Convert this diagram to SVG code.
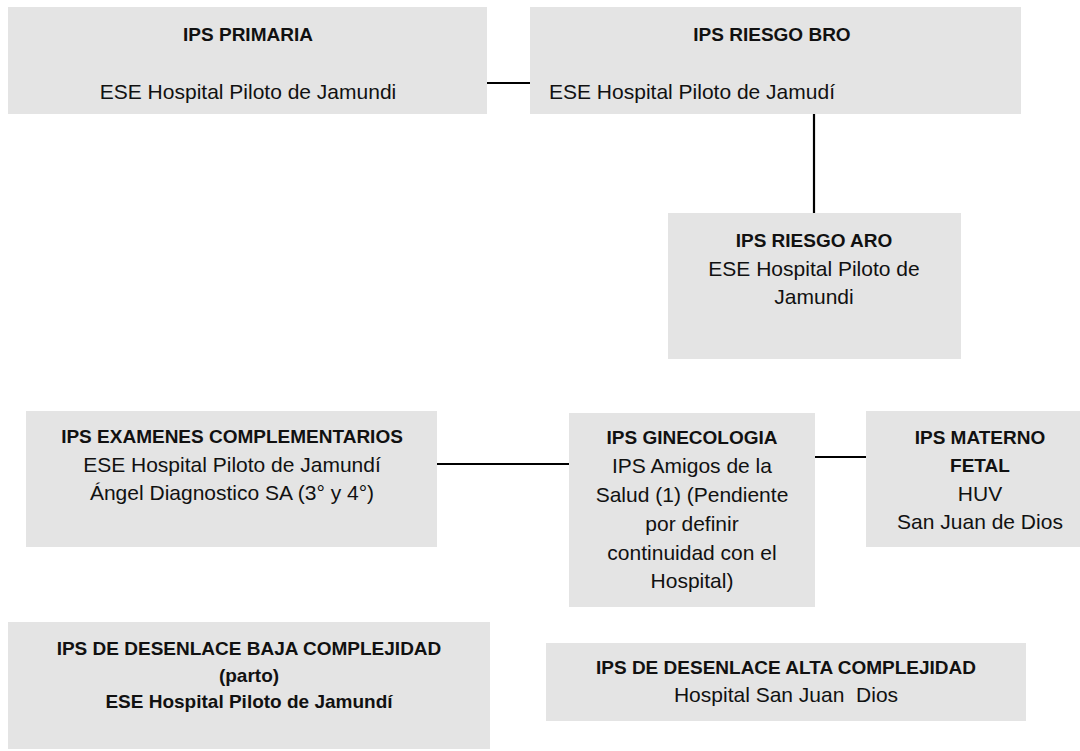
<svg xmlns="http://www.w3.org/2000/svg" width="1080" height="751" viewBox="0 0 1080 751">
<style>
.box{fill:#e4e4e4;stroke:none}
.h{font-family:"Liberation Sans",Arial,sans-serif;font-size:19px;font-weight:bold;fill:#111;text-anchor:middle}
.t{font-family:"Liberation Sans",Arial,sans-serif;font-size:21px;fill:#111;text-anchor:middle}
.tl{text-anchor:start}
.c{stroke:#000;stroke-width:2.2;fill:none}
</style>
<rect width="1080" height="751" fill="#fff"/>
<g id="connectors">
<line class="c" x1="487" y1="83" x2="530" y2="83"/>
<line class="c" x1="814" y1="114" x2="814" y2="213"/>
<line class="c" x1="437" y1="464" x2="569" y2="464"/>
<line class="c" x1="815" y1="457" x2="866" y2="457"/>
</g>
<g id="ips-primaria">
<rect class="box" x="8" y="7" width="479" height="107"/>
<text class="h" x="248" y="41">IPS PRIMARIA</text>
<text class="t" x="248" y="99">ESE Hospital Piloto de Jamundi</text>
</g>
<g id="ips-riesgo-bro">
<rect class="box" x="530" y="7" width="491" height="107"/>
<text class="h" x="772" y="41">IPS RIESGO BRO</text>
<text class="t tl" x="549" y="99">ESE Hospital Piloto de Jamudí</text>
</g>
<g id="ips-riesgo-aro">
<rect class="box" x="668" y="213" width="293" height="146"/>
<text class="h" x="814" y="247">IPS RIESGO ARO</text>
<text class="t" x="814" y="276">ESE Hospital Piloto de</text>
<text class="t" x="814" y="304">Jamundi</text>
</g>
<g id="ips-examenes">
<rect class="box" x="26" y="411" width="411" height="136"/>
<text class="h" x="232" y="443">IPS EXAMENES COMPLEMENTARIOS</text>
<text class="t" x="232" y="472">ESE Hospital Piloto de Jamundí</text>
<text class="t" x="232" y="500">Ángel Diagnostico SA (3° y 4°)</text>
</g>
<g id="ips-ginecologia">
<rect class="box" x="569" y="413" width="246" height="194"/>
<text class="h" x="692" y="444">IPS GINECOLOGIA</text>
<text class="t" x="692" y="473">IPS Amigos de la</text>
<text class="t" x="692" y="502">Salud (1) (Pendiente</text>
<text class="t" x="692" y="531">por definir</text>
<text class="t" x="692" y="560">continuidad con el</text>
<text class="t" x="692" y="588">Hospital)</text>
</g>
<g id="ips-materno-fetal">
<rect class="box" x="866" y="411" width="228" height="136"/>
<text class="h" x="980" y="444">IPS MATERNO</text>
<text class="h" x="980" y="472">FETAL</text>
<text class="t" x="980" y="501">HUV</text>
<text class="t" x="980" y="529">San Juan de Dios</text>
</g>
<g id="ips-desenlace-baja">
<rect class="box" x="8" y="622" width="482" height="127"/>
<text class="h" x="249" y="655">IPS DE DESENLACE BAJA COMPLEJIDAD</text>
<text class="h" x="249" y="682">(parto)</text>
<text class="h" x="249" y="708">ESE Hospital Piloto de Jamundí</text>
</g>
<g id="ips-desenlace-alta">
<rect class="box" x="546" y="643" width="480" height="78"/>
<text class="h" x="786" y="674">IPS DE DESENLACE ALTA COMPLEJIDAD</text>
<text class="t" x="786" y="702" xml:space="preserve">Hospital San Juan  Dios</text>
</g>
</svg>
